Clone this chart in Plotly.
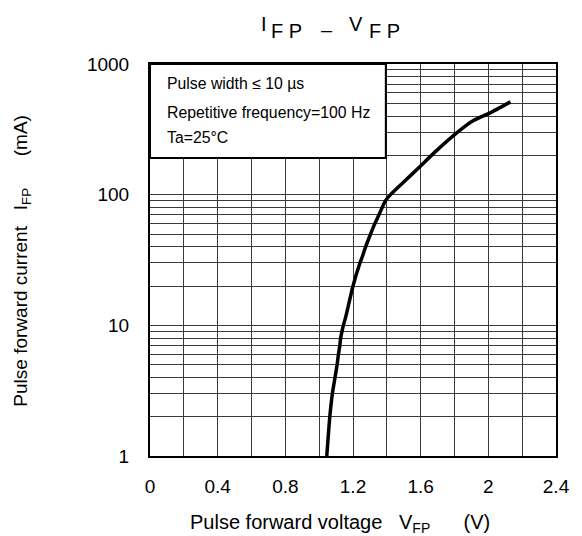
import plotly.graph_objects as go

# Curve data
vfp = [1.045, 1.063, 1.078, 1.094, 1.106, 1.114, 1.122, 1.127, 1.135, 1.143, 1.157,
       1.200, 1.241, 1.255, 1.275, 1.304, 1.329, 1.353, 1.373, 1.392, 1.422,
       1.500, 1.598, 1.676, 1.824, 1.912, 2.010, 2.131]
ifp = [1, 2, 3, 4, 5, 6, 7, 8, 9, 10, 11.6,
       20, 30, 33.5, 40, 50, 60, 70, 80, 90, 100,
       125, 165, 207, 305, 369, 423, 513]

x_ticks = [0, 0.4, 0.8, 1.2, 1.6, 2, 2.4]
x_tick_labels = ["0", "0.4", "0.8", "1.2", "1.6", "2", "2.4"]
x_minor = [0.2, 0.6, 1.0, 1.4, 1.8, 2.2]
y_ticks = [1, 10, 100, 1000]
y_tick_labels = ["1", "10", "100", "1000"]
note_lines = ["Pulse width \u2264 10 \u00b5s", "Repetitive frequency=100 Hz", "Ta=25\u00b0C"]

FONT = "Liberation Sans, Arial, sans-serif"
GRID = "#3a3a3a"
NB = "\u00a0"

# plot area in pixels (page coords)
L, R, T, B = 150, 558, 64, 456
W, H = 582, 536

def px_x(px):
    return (px - L) / (R - L)

def px_y(py):
    return (B - py) / (B - T)

fig = go.Figure()
fig.add_trace(go.Scatter(x=vfp, y=ifp, mode="lines",
                         line=dict(color="black", width=3.5, shape="spline", smoothing=0.5),
                         showlegend=False, hoverinfo="skip"))

fig.update_layout(
    width=W, height=H,
    margin=dict(l=L, r=W - R, t=T, b=H - B),
    paper_bgcolor="white", plot_bgcolor="white",
    font=dict(family=FONT, size=19, color="black"),
    showlegend=False,
)
fig.update_xaxes(
    range=[0, 2.4], tickvals=x_ticks, ticktext=x_tick_labels,
    showgrid=True, gridcolor=GRID, gridwidth=1,
    minor=dict(tickvals=x_minor, showgrid=True, gridcolor=GRID, gridwidth=1),
    showline=True, linecolor="black", linewidth=2, mirror=True,
    ticks="", ticklabelstandoff=12, zeroline=False,
    tickfont=dict(size=19),
)
fig.update_yaxes(
    type="log", range=[0, 3], tickvals=y_ticks, ticktext=y_tick_labels,
    showgrid=True, gridcolor=GRID, gridwidth=1,
    minor=dict(showgrid=True, gridcolor=GRID, gridwidth=1, dtick="D1"),
    showline=True, linecolor="black", linewidth=2, mirror=True,
    ticks="", ticklabelstandoff=15, zeroline=False,
    tickfont=dict(size=19),
)

# Axis titles
fig.add_annotation(
    text="Pulse forward voltage" + NB * 3 + "V<sub>FP</sub>" + NB * 6 + "(V)",
    xref="paper", yref="paper", x=px_x(341), y=px_y(523), xanchor="center", yanchor="middle",
    showarrow=False, font=dict(size=20, family=FONT))
fig.add_annotation(
    text="Pulse forward current" + NB * 3 + "I<sub>FP</sub>" + NB * 6 + "(mA)",
    xref="paper", yref="paper", x=px_x(21), y=px_y(261), xanchor="center", yanchor="middle",
    textangle=-90, showarrow=False, font=dict(size=19, family=FONT))

# Note box
fig.add_shape(type="rect", xref="x domain", yref="y domain",
              x0=0, x1=px_x(387), y0=px_y(158), y1=1.0,
              line=dict(color="black", width=2), fillcolor="white", layer="above")
for i, (t, py) in enumerate(zip(note_lines, [84, 112, 137])):
    fig.add_annotation(text=t, xref="paper", yref="paper",
                       x=px_x(165), y=px_y(py), xanchor="left", yanchor="middle",
                       showarrow=False, font=dict(size=15.8, family=FONT))

# Title: raised I / V followed by spaced F P
for t, px, py in [("I", 260, 24), ("F P", 270, 31), ("\u2013", 320, 30), ("V", 348, 24), ("F P", 368, 31)]:
    fig.add_annotation(text=t, xref="paper", yref="paper",
                       x=px_x(px), y=px_y(py), xanchor="left", yanchor="middle",
                       showarrow=False, font=dict(size=20, family=FONT))

fig.write_html("out.html", config={"displayModeBar": False},
               post_script="document.body.style.margin='0';")
